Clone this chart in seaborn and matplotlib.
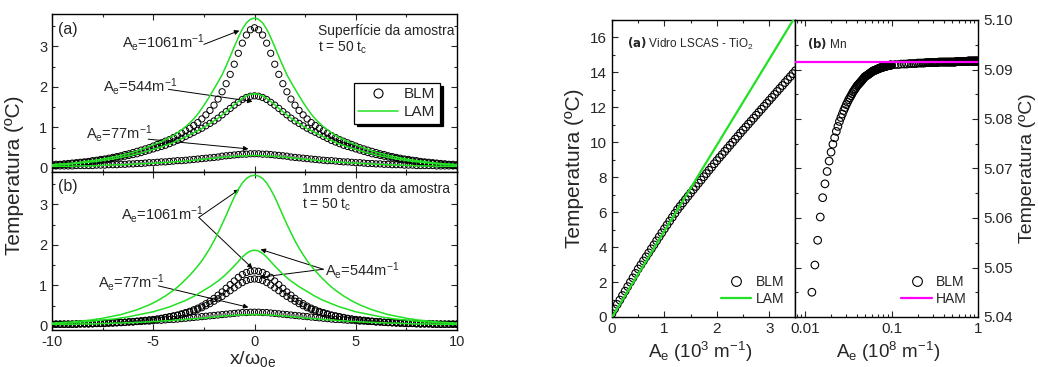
import numpy as np
import matplotlib
matplotlib.use('Agg')
import matplotlib.pyplot as plt
import seaborn as sns
from matplotlib.lines import Line2D
from matplotlib.ticker import MultipleLocator, FixedLocator, FixedFormatter, NullFormatter, LogLocator

# ---- left figure: temperature profiles, half profile x >= 0 (curves are symmetric) ----
x_half = [0.0, 0.2, 0.4, 0.6, 0.8, 1.0, 1.2, 1.4, 1.6, 1.8,
          2.0, 2.2, 2.4, 2.6, 2.8, 3.0, 3.2, 3.4, 3.6, 3.8,
          4.0, 4.2, 4.4, 4.6, 4.8, 5.0, 5.2, 5.4, 5.6, 5.8,
          6.0, 6.2, 6.4, 6.6, 6.8, 7.0, 7.2, 7.4, 7.6, 7.8,
          8.0, 8.2, 8.4, 8.6, 8.8, 9.0, 9.2, 9.4, 9.6, 9.8, 10.0]

# (a) sample surface
blm_1061_surf = [3.46, 3.41, 3.28, 3.08, 2.83, 2.56, 2.31, 2.08, 1.88, 1.70,
                 1.55, 1.42, 1.31, 1.21, 1.12, 1.05, 0.98, 0.92, 0.86, 0.80,
                 0.75, 0.70, 0.66, 0.62, 0.58, 0.54, 0.50, 0.47, 0.44, 0.41,
                 0.38, 0.35, 0.33, 0.30, 0.28, 0.26, 0.24, 0.22, 0.21, 0.19,
                 0.18, 0.16, 0.15, 0.14, 0.13, 0.12, 0.11, 0.10, 0.09, 0.09, 0.08]
lam_1061_surf = [3.70, 3.67, 3.58, 3.43, 3.22, 2.99, 2.75, 2.52, 2.30, 2.12,
                 1.95, 1.78, 1.62, 1.47, 1.33, 1.21, 1.11, 1.02, 0.94, 0.87,
                 0.80, 0.75, 0.70, 0.65, 0.61, 0.57, 0.53, 0.49, 0.46, 0.42,
                 0.39, 0.36, 0.34, 0.31, 0.29, 0.27, 0.25, 0.23, 0.21, 0.20,
                 0.18, 0.17, 0.16, 0.14, 0.13, 0.12, 0.11, 0.10, 0.10, 0.09, 0.08]
blm_544_surf = [1.78, 1.77, 1.74, 1.69, 1.62, 1.55, 1.47, 1.39, 1.31, 1.23,
                1.16, 1.10, 1.04, 0.98, 0.93, 0.88, 0.83, 0.78, 0.73, 0.68,
                0.64, 0.60, 0.56, 0.53, 0.50, 0.47, 0.44, 0.41, 0.38, 0.35,
                0.33, 0.31, 0.29, 0.27, 0.25, 0.23, 0.21, 0.20, 0.18, 0.17,
                0.15, 0.14, 0.13, 0.12, 0.11, 0.10, 0.09, 0.09, 0.08, 0.07, 0.07]
lam_544_surf = [1.83, 1.82, 1.78, 1.72, 1.64, 1.56, 1.47, 1.39, 1.31, 1.23,
                1.16, 1.10, 1.03, 0.97, 0.92, 0.87, 0.82, 0.77, 0.72, 0.68,
                0.63, 0.59, 0.56, 0.52, 0.49, 0.46, 0.43, 0.40, 0.37, 0.35,
                0.32, 0.30, 0.28, 0.26, 0.24, 0.22, 0.21, 0.19, 0.18, 0.16,
                0.15, 0.14, 0.13, 0.12, 0.11, 0.10, 0.09, 0.08, 0.08, 0.07, 0.07]
blm_77_surf = [0.35, 0.35, 0.34, 0.34, 0.33, 0.32, 0.31, 0.30, 0.29, 0.27,
               0.26, 0.25, 0.24, 0.23, 0.22, 0.21, 0.20, 0.19, 0.18, 0.18,
               0.17, 0.16, 0.15, 0.15, 0.14, 0.13, 0.13, 0.12, 0.11, 0.11,
               0.10, 0.10, 0.09, 0.09, 0.08, 0.08, 0.08, 0.07, 0.07, 0.07,
               0.06, 0.06, 0.06, 0.06, 0.06, 0.05, 0.05, 0.05, 0.05, 0.05, 0.05]
lam_77_surf = [0.31, 0.31, 0.30, 0.30, 0.29, 0.29, 0.28, 0.27, 0.26, 0.25,
               0.24, 0.23, 0.22, 0.21, 0.20, 0.19, 0.18, 0.17, 0.16, 0.16,
               0.15, 0.14, 0.14, 0.13, 0.12, 0.12, 0.11, 0.11, 0.10, 0.10,
               0.09, 0.09, 0.08, 0.08, 0.08, 0.07, 0.07, 0.07, 0.06, 0.06,
               0.05, 0.05, 0.05, 0.05, 0.05, 0.04, 0.04, 0.04, 0.04, 0.04, 0.04]

# (b) 1 mm inside the sample
blm_1061_in = [1.36, 1.35, 1.32, 1.27, 1.20, 1.11, 1.02, 0.93, 0.84, 0.76,
               0.68, 0.61, 0.55, 0.49, 0.44, 0.40, 0.36, 0.33, 0.30, 0.27,
               0.25, 0.23, 0.21, 0.19, 0.17, 0.16, 0.15, 0.14, 0.13, 0.12,
               0.11, 0.10, 0.09, 0.09, 0.08, 0.08, 0.07, 0.07, 0.06, 0.06,
               0.06, 0.05, 0.05, 0.05, 0.05, 0.04, 0.04, 0.04, 0.04, 0.04, 0.04]
lam_1061_in = [3.72, 3.70, 3.64, 3.53, 3.37, 3.18, 2.96, 2.73, 2.51, 2.30,
               2.10, 1.92, 1.76, 1.61, 1.48, 1.36, 1.25, 1.15, 1.05, 0.96,
               0.88, 0.81, 0.74, 0.68, 0.62, 0.57, 0.52, 0.48, 0.44, 0.40,
               0.37, 0.34, 0.31, 0.28, 0.26, 0.24, 0.22, 0.20, 0.18, 0.17,
               0.15, 0.14, 0.13, 0.12, 0.11, 0.10, 0.09, 0.09, 0.08, 0.07, 0.07]
blm_544_in = [1.16, 1.15, 1.12, 1.07, 1.01, 0.94, 0.87, 0.80, 0.73, 0.67,
              0.61, 0.55, 0.50, 0.45, 0.41, 0.37, 0.34, 0.31, 0.28, 0.26,
              0.24, 0.22, 0.20, 0.18, 0.17, 0.15, 0.14, 0.13, 0.12, 0.11,
              0.10, 0.10, 0.09, 0.08, 0.08, 0.07, 0.07, 0.06, 0.06, 0.06,
              0.05, 0.05, 0.05, 0.05, 0.04, 0.04, 0.04, 0.04, 0.04, 0.04, 0.04]
lam_544_in = [1.87, 1.85, 1.79, 1.70, 1.59, 1.48, 1.38, 1.28, 1.19, 1.11,
              1.04, 0.97, 0.91, 0.85, 0.79, 0.73, 0.68, 0.63, 0.59, 0.55,
              0.51, 0.47, 0.44, 0.41, 0.38, 0.35, 0.33, 0.31, 0.29, 0.27,
              0.25, 0.23, 0.21, 0.20, 0.18, 0.17, 0.16, 0.15, 0.14, 0.13,
              0.12, 0.11, 0.10, 0.10, 0.09, 0.08, 0.08, 0.07, 0.07, 0.06, 0.06]
blm_77_in = [0.34, 0.34, 0.33, 0.33, 0.32, 0.31, 0.30, 0.29, 0.28, 0.27,
             0.26, 0.25, 0.24, 0.23, 0.22, 0.21, 0.20, 0.19, 0.18, 0.17,
             0.16, 0.16, 0.15, 0.14, 0.14, 0.13, 0.12, 0.12, 0.11, 0.11,
             0.10, 0.10, 0.09, 0.09, 0.08, 0.08, 0.08, 0.07, 0.07, 0.07,
             0.06, 0.06, 0.06, 0.06, 0.05, 0.05, 0.05, 0.05, 0.05, 0.05, 0.05]
lam_77_in = [0.28, 0.28, 0.28, 0.27, 0.27, 0.26, 0.26, 0.25, 0.24, 0.23,
             0.22, 0.21, 0.20, 0.19, 0.18, 0.18, 0.17, 0.16, 0.15, 0.15,
             0.14, 0.13, 0.13, 0.12, 0.11, 0.11, 0.10, 0.10, 0.09, 0.09,
             0.08, 0.08, 0.08, 0.07, 0.07, 0.07, 0.06, 0.06, 0.06, 0.05,
             0.05, 0.05, 0.05, 0.05, 0.04, 0.04, 0.04, 0.04, 0.04, 0.04, 0.04]

# ---- right figure (a): LSCAS-TiO2 glass, Ae in 10^3 m^-1 ----
ae_glass = [0.00, 0.05, 0.10, 0.15, 0.20, 0.25, 0.30, 0.35, 0.40, 0.45,
            0.50, 0.55, 0.60, 0.65, 0.70, 0.75, 0.80, 0.85, 0.90, 0.95,
            1.00, 1.05, 1.10, 1.15, 1.20, 1.25, 1.30, 1.35, 1.40, 1.45,
            1.50, 1.55, 1.60, 1.65, 1.70, 1.75, 1.80, 1.85, 1.90, 1.95,
            2.00, 2.05, 2.10, 2.15, 2.20, 2.25, 2.30, 2.35, 2.40, 2.45,
            2.50, 2.55, 2.60, 2.65, 2.70, 2.75, 2.80, 2.85, 2.90, 2.95,
            3.00, 3.05, 3.10, 3.15, 3.20, 3.25, 3.30, 3.35, 3.40, 3.45, 3.50]
blm_glass = [0.20, 0.46, 0.72, 0.97, 1.23, 1.48, 1.74, 1.99, 2.24, 2.50,
             2.75, 2.98, 3.21, 3.44, 3.67, 3.90, 4.13, 4.36, 4.59, 4.82,
             5.05, 5.27, 5.49, 5.71, 5.93, 6.15, 6.34, 6.53, 6.72, 6.91,
             7.10, 7.29, 7.47, 7.66, 7.84, 8.03, 8.21, 8.40, 8.58, 8.77,
             8.95, 9.13, 9.30, 9.48, 9.65, 9.83, 10.00, 10.18, 10.35, 10.53,
             10.70, 10.87, 11.04, 11.21, 11.38, 11.55, 11.72, 11.89, 12.06, 12.23,
             12.40, 12.57, 12.74, 12.91, 13.08, 13.25, 13.42, 13.59, 13.76, 13.93, 14.10]
ae_glass_lam = [0.0, 0.5, 1.0, 1.5, 2.0, 2.5, 3.0, 3.5]
lam_glass = [0.0, 2.46, 4.92, 7.38, 9.84, 12.30, 14.76, 17.22]

# ---- right figure (b): Mn, Ae in 10^8 m^-1 ----
ae_mn_low = [0.012, 0.013, 0.014, 0.015, 0.016, 0.017, 0.018, 0.019, 0.020,
             0.021, 0.022, 0.023, 0.024, 0.025, 0.026, 0.027, 0.028, 0.029, 0.030,
             0.031, 0.032, 0.033, 0.034, 0.035, 0.036, 0.037, 0.038, 0.039, 0.040,
             0.041, 0.042, 0.043, 0.044, 0.045, 0.046, 0.047, 0.048, 0.049, 0.050,
             0.051, 0.052, 0.053, 0.054, 0.055, 0.056, 0.057, 0.058, 0.059, 0.060,
             0.061, 0.062, 0.063, 0.064, 0.065, 0.066, 0.067, 0.068, 0.069, 0.070,
             0.071, 0.072, 0.073, 0.074, 0.075, 0.076, 0.077, 0.078, 0.079, 0.080,
             0.081, 0.082, 0.083, 0.084, 0.085, 0.086, 0.087, 0.088, 0.089, 0.090,
             0.091, 0.092, 0.093, 0.094, 0.095, 0.096, 0.097, 0.098, 0.099, 0.100]
blm_mn_low = [5.0450, 5.0505, 5.0555, 5.0602, 5.0641, 5.0669, 5.0694, 5.0715, 5.0733,
              5.0749, 5.0762, 5.0775, 5.0785, 5.0795, 5.0803, 5.0810, 5.0817, 5.0823, 5.0829,
              5.0834, 5.0839, 5.0843, 5.0847, 5.0851, 5.0855, 5.0858, 5.0861, 5.0864, 5.0867,
              5.0869, 5.0871, 5.0873, 5.0875, 5.0877, 5.0879, 5.0881, 5.0883, 5.0885, 5.0886,
              5.0887, 5.0888, 5.0889, 5.0890, 5.0891, 5.0892, 5.0893, 5.0894, 5.0895, 5.0896,
              5.0897, 5.0897, 5.0898, 5.0898, 5.0899, 5.0899, 5.0900, 5.0900, 5.0901, 5.0901,
              5.0902, 5.0902, 5.0903, 5.0903, 5.0903, 5.0904, 5.0904, 5.0904, 5.0905, 5.0905,
              5.0905, 5.0906, 5.0906, 5.0906, 5.0906, 5.0907, 5.0907, 5.0907, 5.0907, 5.0908,
              5.0908, 5.0908, 5.0908, 5.0908, 5.0908, 5.0909, 5.0909, 5.0909, 5.0909, 5.0909]
ae_mn_high = [0.11, 0.12, 0.13, 0.14, 0.15, 0.16, 0.17, 0.18, 0.19, 0.20,
              0.21, 0.22, 0.23, 0.24, 0.25, 0.26, 0.27, 0.28, 0.29, 0.30,
              0.31, 0.32, 0.33, 0.34, 0.35, 0.36, 0.37, 0.38, 0.39, 0.40,
              0.41, 0.42, 0.43, 0.44, 0.45, 0.46, 0.47, 0.48, 0.49, 0.50,
              0.51, 0.52, 0.53, 0.54, 0.55, 0.56, 0.57, 0.58, 0.59, 0.60,
              0.61, 0.62, 0.63, 0.64, 0.65, 0.66, 0.67, 0.68, 0.69, 0.70,
              0.71, 0.72, 0.73, 0.74, 0.75, 0.76, 0.77, 0.78, 0.79, 0.80,
              0.81, 0.82, 0.83, 0.84, 0.85, 0.86, 0.87, 0.88, 0.89, 0.90,
              0.91, 0.92, 0.93, 0.94, 0.95, 0.96, 0.97, 0.98, 0.99, 1.00]
blm_mn_high = [5.0910, 5.0910, 5.0911, 5.0911, 5.0911, 5.0912, 5.0912, 5.0912, 5.0912, 5.0913,
               5.0913, 5.0913, 5.0913, 5.0913, 5.0914, 5.0914, 5.0914, 5.0914, 5.0914, 5.0914,
               5.0914, 5.0914, 5.0914, 5.0914, 5.0915, 5.0915, 5.0915, 5.0915, 5.0915, 5.0915,
               5.0915, 5.0915, 5.0915, 5.0915, 5.0915, 5.0915, 5.0915, 5.0915, 5.0915, 5.0915,
               5.0915, 5.0915, 5.0915, 5.0915, 5.0915, 5.0916, 5.0916, 5.0916, 5.0916, 5.0916,
               5.0916, 5.0916, 5.0916, 5.0916, 5.0916, 5.0916, 5.0916, 5.0916, 5.0916, 5.0916,
               5.0916, 5.0916, 5.0916, 5.0916, 5.0916, 5.0917, 5.0917, 5.0917, 5.0917, 5.0917,
               5.0917, 5.0917, 5.0917, 5.0917, 5.0917, 5.0917, 5.0917, 5.0917, 5.0917, 5.0917,
               5.0917, 5.0917, 5.0917, 5.0917, 5.0917, 5.0917, 5.0917, 5.0917, 5.0917, 5.0917]
ae_mn_ham = [0.0076, 1.0]
ham_mn = [5.0916, 5.0916]

GREEN = '#22e022'
MAGENTA = '#ff00ff'

sns.set_style('ticks')
plt.rcParams['font.family'] = ['Liberation Sans', 'DejaVu Sans']
plt.rcParams['mathtext.default'] = 'regular'
plt.rcParams['axes.unicode_minus'] = False


def mirror(half):
    half = np.asarray(half, dtype=float)
    return np.concatenate([half[:0:-1], half])


x_full = np.concatenate([-np.asarray(x_half)[:0:-1], np.asarray(x_half)])


def style_axis(ax, fs=10):
    ax.tick_params(which='both', direction='in', top=True, right=True, labelsize=fs)
    ax.tick_params(which='major', length=4, width=0.8)
    ax.tick_params(which='minor', length=2.2, width=0.8)
    for sp in ax.spines.values():
        sp.set_linewidth(1.0)
        sp.set_color('k')
    ax.set_xlabel('')
    ax.set_ylabel('')


def profile_panel(ax, blm_list, lam_list):
    for y in blm_list:
        sns.scatterplot(x=x_full, y=mirror(y), ax=ax, marker='o', s=20,
                        facecolors='none', edgecolor='k', linewidth=0.7, zorder=3)
    for y in lam_list:
        sns.lineplot(x=x_full, y=mirror(y), ax=ax, color=GREEN, lw=1.1,
                     sort=False, estimator=None, zorder=4)
    ax.set_xlim(-10, 10)
    ax.set_ylim(-0.1, 3.8)
    ax.xaxis.set_major_locator(MultipleLocator(5))
    ax.xaxis.set_minor_locator(MultipleLocator(2.5))
    ax.yaxis.set_major_locator(MultipleLocator(1))
    ax.yaxis.set_minor_locator(MultipleLocator(0.5))
    style_axis(ax, fs=10.5)


def arrow(ax, start, tip):
    ax.annotate('', xy=tip, xytext=start,
                arrowprops=dict(arrowstyle='-|>', color='k', lw=0.7,
                                mutation_scale=7, shrinkA=0, shrinkB=0))


W, H = 1038, 367
fig = plt.figure(figsize=(W / 100, H / 100), dpi=100)


def box(x0, y0, x1, y1):
    return [x0 / W, 1 - y1 / H, (x1 - x0) / W, (y1 - y0) / H]


ax_a = fig.add_axes(box(52, 14, 457, 172))
ax_b = fig.add_axes(box(52, 172, 457, 330))
ax_g = fig.add_axes(box(612, 20, 795, 317))
ax_m = fig.add_axes(box(795, 20, 978, 317))

# ---- (a) surface ----
profile_panel(ax_a, [blm_1061_surf, blm_544_surf, blm_77_surf],
              [lam_1061_surf, lam_544_surf, lam_77_surf])
ax_a.tick_params(labelbottom=False)
fs_ann = 10.5
ax_a.text(-9.7, 3.42, '(a)', fontsize=11.5, va='center')
ax_a.text(-6.55, 3.1, 'A$_e$=1061m$^{-1}$', fontsize=fs_ann, va='center')
arrow(ax_a, (-2.5, 3.05), (-0.75, 3.39))
ax_a.text(-7.5, 2.02, 'A$_e$=544m$^{-1}$', fontsize=fs_ann, va='center')
arrow(ax_a, (-4.25, 1.94), (-0.1, 1.64))
ax_a.text(-8.3, 0.84, 'A$_e$=77m$^{-1}$', fontsize=fs_ann, va='center')
arrow(ax_a, (-5.25, 0.71), (-0.3, 0.47))
ax_a.text(3.12, 3.39, 'Superfície da amostra', fontsize=10, va='center')
ax_a.text(3.12, 2.97, 't = 50 t$_c$', fontsize=10, va='center')
leg_handles = [Line2D([], [], marker='o', ls='none', mfc='none', mec='k', ms=6.5, mew=0.8),
               Line2D([], [], color=GREEN, lw=1.1)]
leg = ax_a.legend(leg_handles, ['BLM', 'LAM'], loc='upper left', bbox_to_anchor=(0.745, 0.565),
                  fontsize=11, frameon=True, fancybox=False, edgecolor='k', framealpha=1,
                  shadow={'color': 'k', 'alpha': 1}, handlelength=2.6, handletextpad=0.4,
                  borderpad=0.3, labelspacing=0.25, borderaxespad=0)
leg.get_frame().set_linewidth(0.9)

# ---- (b) 1 mm inside ----
profile_panel(ax_b, [blm_1061_in, blm_544_in, blm_77_in],
              [lam_1061_in, lam_544_in, lam_77_in])
ax_b.text(-9.7, 3.45, '(b)', fontsize=11.5, va='center')
ax_b.text(-6.6, 2.75, 'A$_e$=1061m$^{-1}$', fontsize=fs_ann, va='center')
arrow(ax_b, (-2.75, 2.68), (-0.75, 3.37))
arrow(ax_b, (-2.75, 2.68), (-0.1, 1.42))
ax_b.text(-7.75, 1.07, 'A$_e$=77m$^{-1}$', fontsize=fs_ann, va='center')
arrow(ax_b, (-4.75, 0.99), (-0.3, 0.46))
ax_b.text(3.48, 1.36, 'A$_e$=544m$^{-1}$', fontsize=fs_ann, va='center')
arrow(ax_b, (3.4, 1.4), (0.3, 1.89))
arrow(ax_b, (3.4, 1.4), (0.25, 1.2))
ax_b.text(2.33, 3.37, '1mm dentro da amostra', fontsize=10, va='center')
ax_b.text(2.33, 2.98, 't = 50 t$_c$', fontsize=10, va='center')

fig.text(15 / W, 1 - 175 / H, 'Temperatura (ºC)', rotation=90, ha='center', va='center', fontsize=15)
fig.text(253 / W, 1 - 364 / H, 'x/ω$_{0e}$', ha='center', va='baseline', fontsize=14)

# ---- right (a): glass ----
sns.scatterplot(x=ae_glass, y=blm_glass, ax=ax_g, marker='o', s=30,
                facecolors='none', edgecolor='k', linewidth=0.8, zorder=3)
sns.lineplot(x=ae_glass_lam, y=lam_glass, ax=ax_g, color=GREEN, lw=1.6,
             sort=False, estimator=None, zorder=4)
ax_g.set_xlim(0, 3.49)
ax_g.set_ylim(0, 17)
ax_g.xaxis.set_major_locator(MultipleLocator(1))
ax_g.xaxis.set_minor_locator(MultipleLocator(0.5))
ax_g.yaxis.set_major_locator(MultipleLocator(2))
ax_g.yaxis.set_minor_locator(MultipleLocator(1))
style_axis(ax_g, fs=11)
ax_g.tick_params(which='both', right=False)
ax_g.text(0.08, 0.92, r'$\bf{(a)}$ Vidro LSCAS - TiO$_2$', transform=ax_g.transAxes,
          fontsize=8.5, va='center')
ax_g.legend([Line2D([], [], marker='o', ls='none', mfc='none', mec='k', ms=7, mew=0.8),
             Line2D([], [], color=GREEN, lw=1.6)], ['BLM', 'LAM'],
            loc='lower right', frameon=False, fontsize=10, handlelength=2.2,
            handletextpad=0.3, labelspacing=0.2, borderaxespad=0.4)

# ---- right (b): Mn ----
sns.scatterplot(x=ae_mn_low + ae_mn_high, y=blm_mn_low + blm_mn_high, ax=ax_m, marker='o', s=30,
                facecolors='none', edgecolor='k', linewidth=0.8, zorder=3)
sns.lineplot(x=ae_mn_ham, y=ham_mn, ax=ax_m, color=MAGENTA, lw=1.6,
             sort=False, estimator=None, zorder=4)
ax_m.set_xscale('log')
ax_m.set_xlim(0.00766, 1.0)
ax_m.set_ylim(5.04, 5.10)
ax_m.xaxis.set_major_locator(FixedLocator([0.01, 0.1, 1]))
ax_m.xaxis.set_major_formatter(FixedFormatter(['0.01', '0.1', '1']))
ax_m.xaxis.set_minor_locator(LogLocator(base=10, subs=np.arange(2, 10)))
ax_m.xaxis.set_minor_formatter(NullFormatter())
ax_m.yaxis.set_major_locator(MultipleLocator(0.01))
ax_m.yaxis.set_minor_locator(MultipleLocator(0.005))
ax_m.yaxis.set_major_formatter(matplotlib.ticker.FormatStrFormatter('%.2f'))
style_axis(ax_m, fs=11)
ax_m.tick_params(which='both', labelleft=False, labelright=True)
ax_m.text(0.065, 0.92, r'$\bf{(b)}$ Mn', transform=ax_m.transAxes, fontsize=8.5, va='center')
ax_m.legend([Line2D([], [], marker='o', ls='none', mfc='none', mec='k', ms=7, mew=0.8),
             Line2D([], [], color=MAGENTA, lw=1.6)], ['BLM', 'HAM'],
            loc='lower right', frameon=False, fontsize=10, handlelength=2.2,
            handletextpad=0.3, labelspacing=0.2, borderaxespad=0.4)

fig.text(575 / W, 1 - 168 / H, 'Temperatura (ºC)', rotation=90, ha='center', va='center', fontsize=15)
fig.text(1028 / W, 1 - 168 / H, 'Temperatura (ºC)', rotation=90, ha='center', va='center', fontsize=14)
fig.text(700 / W, 1 - 358 / H, 'A$_e$ (10$^3$ m$^{-1}$)', ha='center', va='baseline', fontsize=13.5)
fig.text(888 / W, 1 - 358 / H, 'A$_e$ (10$^8$ m$^{-1}$)', ha='center', va='baseline', fontsize=13.5)

fig.savefig('out.png', dpi=100)
